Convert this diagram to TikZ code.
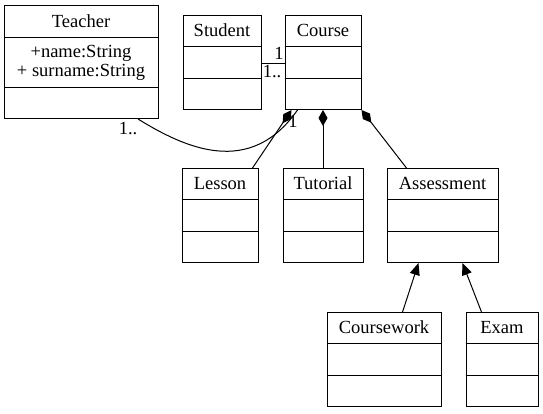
\documentclass[tikz,border=0pt]{standalone}
\usepackage{fontspec}
\setmainfont{Liberation Serif}
\usetikzlibrary{arrows.meta,calc,positioning}

\begin{document}
\begin{tikzpicture}[x=1pt,y=-1pt,line width=1pt,
          font=\fontsize{18.5}{19}\selectfont,
          classbox/.style={draw,rectangle,minimum height=94pt,inner sep=0pt},
          classname/.style={inner sep=1pt},
          mult/.style={inner sep=0.5pt},
          composition/.style={{Diamond[length=16pt,width=9pt]}-},
          inherit/.style={-{Triangle[length=12pt,width=10pt]}}]
        \useasboundingbox (0,0) rectangle (543,413);
        % Teacher carries the only attribute compartment.
        \node[draw,minimum width=154pt,minimum height=113pt,inner sep=0pt,
              anchor=north] (teacher) at (81,5) {};
        \node[classname] (teacher-name) at ([yshift=-16pt]teacher.north) {Teacher};
        \node[classname,align=center] (teacher-attrs) at ([yshift=-58pt]teacher.north)
          {+name:String\\+ surname:String};
        \draw ([yshift=-32pt]teacher.north west) -- ([yshift=-32pt]teacher.north east);
        \draw ([yshift=-82pt]teacher.north west) -- ([yshift=-82pt]teacher.north east);
        \foreach \id/\cx/\ty/\w/\title in {student/222/15/78/Student,
            course/323/15/76/Course,lesson/220/168/76/Lesson,
            tutorial/323/168/80/Tutorial,assessment/442.5/168/111/Assessment,
            coursework/384/312/114/Coursework,exam/502/312/72/Exam}{%
          \node[classbox,minimum width=\w pt,anchor=north] (\id) at (\cx,\ty) {};
          \node[classname] (\id-name) at ([yshift=-15.5pt]\id.north) {\title};
          \draw ([yshift=-31pt]\id.north west) -- ([yshift=-31pt]\id.north east);
          \draw ([yshift=-63pt]\id.north west) -- ([yshift=-63pt]\id.north east);
        }
        % Associations with multiplicities.
        \draw ([yshift=-48pt]student.north east) -- ([yshift=-48pt]course.north west);
        \node[mult] (m-course) at (279,53) {1};
        \node[mult] (m-student) at (272,72) {1..};
        \coordinate (teacher-end) at ([xshift=57pt]teacher.south);
        \coordinate (course-end) at ([xshift=13pt]course.south west);
        \draw (teacher-end) .. controls (185,148) and (250,178) .. (course-end);
        \node[mult] (m-teacher) at (128,129) {1..};
        \node[mult] (m-course2) at (293,121) {1};
        % Composition parts hang below Course.
        \draw[composition] ([xshift=7pt]course.south west) -- ([xshift=-6pt]lesson.north east);
        \draw[composition] (course.south) -- (tutorial.north);
        \draw[composition] (course.south east) -- ([xshift=20pt]assessment.north west);
        % Generalisation towards Assessment.
        \draw[inherit] ([xshift=76pt]coursework.north west) -- ([xshift=32pt]assessment.south west);
        \draw[inherit] ([xshift=16pt]exam.north west) -- ([xshift=76pt]assessment.south west);
      \end{tikzpicture}
\end{document}
